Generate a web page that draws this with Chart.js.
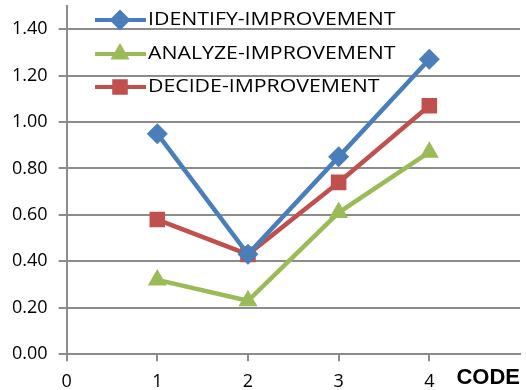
<!DOCTYPE html>
<html>
<head>
<meta charset="utf-8">
<script src="https://cdn.jsdelivr.net/npm/chart.js@4"></script>
<style>
  html, body { margin: 0; padding: 0; background: #fff; }
  #wrap { width: 526px; height: 390px; }
</style>
</head>
<body>
<div id="wrap"><canvas id="c" width="526" height="390"></canvas></div>
<script>
// Improvement scores per code
const codes = [1, 2, 3, 4];
const identifyImprovement = [0.95, 0.43, 0.85, 1.27];
const analyzeImprovement = [0.32, 0.23, 0.61, 0.87];
const decideImprovement = [0.58, 0.43, 0.74, 1.07];
const seriesNames = ['IDENTIFY-IMPROVEMENT', 'ANALYZE-IMPROVEMENT', 'DECIDE-IMPROVEMENT'];
const yTicks = [0, 0.2, 0.4, 0.6, 0.8, 1.0, 1.2, 1.4];
const xTicks = [0, 1, 2, 3, 4];
const xAxisTitle = 'CODE';

const toPoints = vals => codes.map((c, i) => ({ x: c, y: vals[i] }));

const styles = [
  { color: '#4A7EBB', pointStyle: 'rectRot', radius: 10.5 },
  { color: '#9BBB59', pointStyle: 'triangle', radius: 11 },
  { color: '#C0504D', pointStyle: 'rect', radius: 11 }
];
const seriesValues = [identifyImprovement, analyzeImprovement, decideImprovement];

const datasets = seriesValues.map((vals, i) => ({
  label: seriesNames[i],
  data: toPoints(vals),
  borderColor: styles[i].color,
  backgroundColor: styles[i].color,
  borderWidth: 4.5,
  pointStyle: styles[i].pointStyle,
  pointRadius: styles[i].radius,
  pointHoverRadius: styles[i].radius,
  pointBorderWidth: 0,
  tension: 0
}));

const labelFont = 'Open Sans';
const gridColor = '#8C8C8C';

// Legend drawn inside the plot: line sample with marker, then the label
const insideLegend = {
  id: 'insideLegend',
  afterDatasetsDraw(chart) {
    const ctx = chart.ctx;
    const rows = [20, 54, 87];
    ctx.save();
    chart.data.datasets.forEach((ds, i) => {
      const y = rows[i];
      ctx.strokeStyle = ds.borderColor;
      ctx.lineWidth = 4;
      ctx.beginPath();
      ctx.moveTo(95, y);
      ctx.lineTo(146, y);
      ctx.stroke();
      ctx.fillStyle = ds.backgroundColor;
      Chart.helpers.drawPoint(ctx, {
        pointStyle: ds.pointStyle, radius: ds.pointRadius, borderWidth: 0, rotation: 0
      }, 120, y);
      ctx.save();
      ctx.translate(148, y);
      ctx.scale(1.12, 1);
      ctx.fillStyle = '#000';
      ctx.font = '19px "' + labelFont + '"';
      ctx.textBaseline = 'middle';
      ctx.textAlign = 'left';
      ctx.fillText(ds.label, 0, 0);
      ctx.restore();
    });
    ctx.restore();
  }
};

new Chart(document.getElementById('c'), {
  type: 'line',
  data: { datasets },
  plugins: [insideLegend],
  options: {
    responsive: false,
    animation: false,
    layout: { autoPadding: false, padding: { left: 12, right: 6, top: 0, bottom: 0 } },
    plugins: { legend: { display: false }, tooltip: { enabled: false } },
    scales: {
      x: {
        type: 'linear',
        min: 0, max: 5,
        afterBuildTicks: s => { s.ticks = s.ticks.filter(t => xTicks.includes(t.value) || t.value === 5); },
        ticks: {
          stepSize: 1,
          color: '#000',
          font: { family: labelFont, size: 18, lineHeight: 2.3 },
          padding: 0,
          maxRotation: 0,
          callback: v => (xTicks.includes(v) ? String(v) : '')
        },
        grid: {
          drawOnChartArea: false,
          drawTicks: true,
          tickLength: 7,
          lineWidth: 2,
          color: c => (c.tick && c.tick.value === 5 ? 'rgba(0,0,0,0)' : gridColor)
        },
        border: { color: gridColor, width: 2 },
        title: {
          display: true,
          text: xAxisTitle,
          align: 'end',
          color: '#000',
          font: { family: 'Liberation Sans', size: 22, weight: 'bold' },
          padding: { top: -38, bottom: -1 }
        }
      },
      y: {
        min: 0, max: 1.5,
        afterBuildTicks: s => { s.ticks = yTicks.map(v => ({ value: v })); },
        ticks: {
          stepSize: 0.2,
          color: '#000',
          font: { family: labelFont, size: 18, lineHeight: 0.66 },
          padding: 0,
          callback: v => v.toFixed(2)
        },
        grid: {
          color: gridColor,
          lineWidth: 2,
          tickLength: 19,
          // short tick mark next to the axis, gap before the label
          tickBorderDash: [0, 11, 8, 100]
        },
        border: { color: gridColor, width: 2 }
      }
    }
  }
});
</script>
</body>
</html>
